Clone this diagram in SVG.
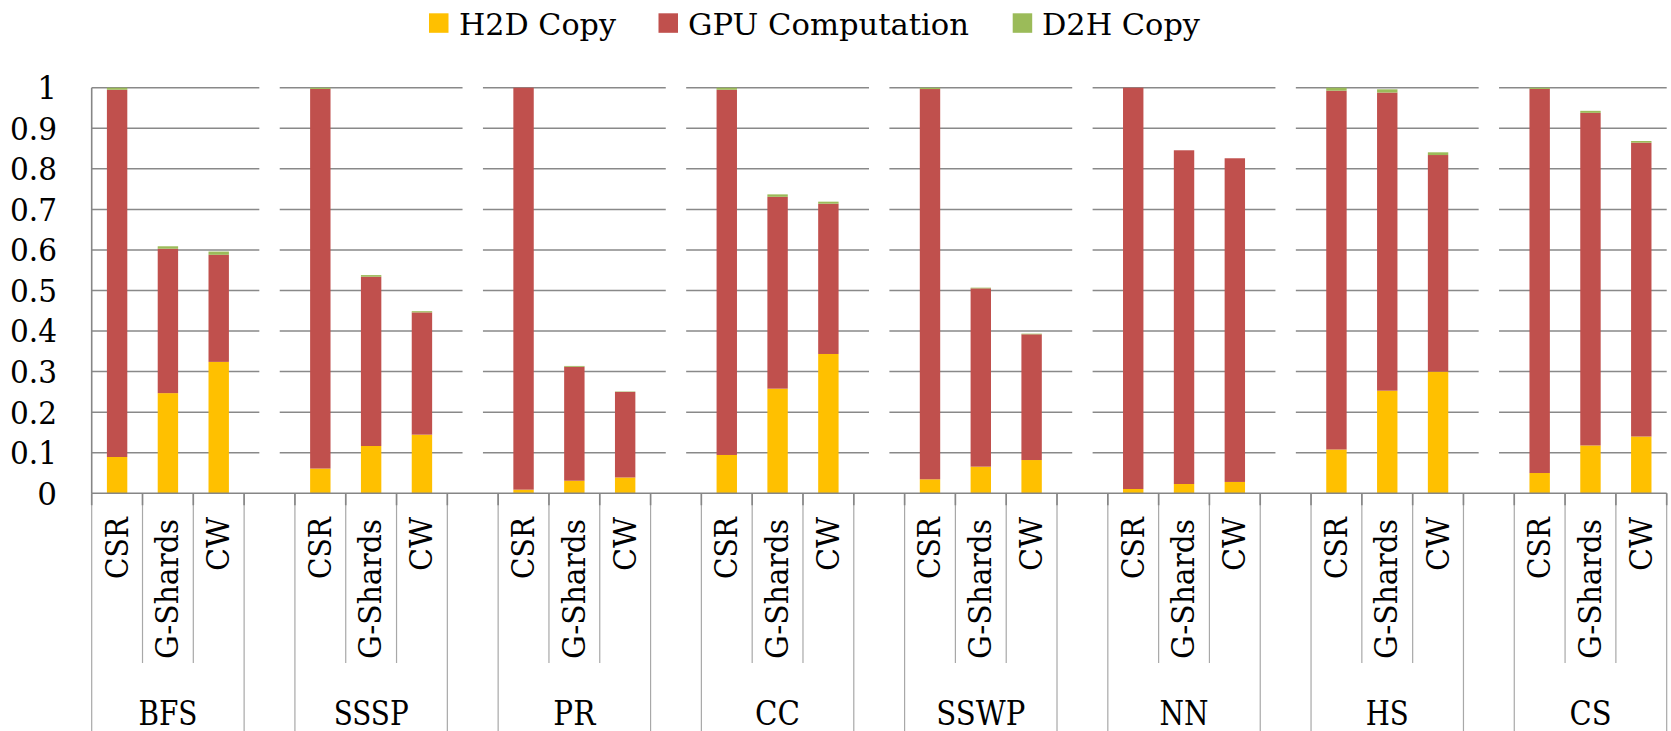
<svg xmlns="http://www.w3.org/2000/svg" width="1671" height="731" viewBox="0 0 1671 731">
  <style>
    text { font-family: "DejaVu Serif", "Liberation Serif", serif; fill: #000; }
    .leg { font-size: 30px; }
    .ytick { font-size: 31px; text-anchor: end; }
    .cat { font-size: 32px; text-anchor: end; }
    .grp { font-size: 33px; text-anchor: middle; }
    .grid { stroke: #898989; stroke-width: 1.5; fill: none; }
    .axis { stroke: #868686; stroke-width: 1.6; fill: none; }
    .tick { stroke: #868686; stroke-width: 1.6; }
    .sep { stroke: #a8a8a8; stroke-width: 1.2; }
    .h2d { fill: #FFC000; }
    .gpu { fill: #C0504D; }
    .d2h { fill: #9BBB59; }
    .blank { fill: #ffffff; }
  </style>

  <!-- legend -->
  <g id="legend">
    <rect class="h2d" x="429" y="13.3" width="19.5" height="19.5"/>
    <text class="leg" x="459" y="34.5" textLength="157" lengthAdjust="spacingAndGlyphs">H2D Copy</text>
    <rect class="gpu" x="658.5" y="13.3" width="19.5" height="19.5"/>
    <text class="leg" x="688" y="34.5" textLength="281" lengthAdjust="spacingAndGlyphs">GPU Computation</text>
    <rect class="d2h" x="1012.7" y="13.3" width="19.5" height="19.5"/>
    <text class="leg" x="1042" y="34.5" textLength="158" lengthAdjust="spacingAndGlyphs">D2H Copy</text>
  </g>

  <!-- horizontal gridlines, 0.1 .. 1.0 -->
  <g id="gridlines">
    <line class="grid" x1="91.7" y1="452.74" x2="1666.7" y2="452.74"/>
    <line class="grid" x1="91.7" y1="412.18" x2="1666.7" y2="412.18"/>
    <line class="grid" x1="91.7" y1="371.62" x2="1666.7" y2="371.62"/>
    <line class="grid" x1="91.7" y1="331.06" x2="1666.7" y2="331.06"/>
    <line class="grid" x1="91.7" y1="290.50" x2="1666.7" y2="290.50"/>
    <line class="grid" x1="91.7" y1="249.94" x2="1666.7" y2="249.94"/>
    <line class="grid" x1="91.7" y1="209.38" x2="1666.7" y2="209.38"/>
    <line class="grid" x1="91.7" y1="168.82" x2="1666.7" y2="168.82"/>
    <line class="grid" x1="91.7" y1="128.26" x2="1666.7" y2="128.26"/>
    <line class="grid" x1="91.7" y1="87.70" x2="1666.7" y2="87.70"/>
  </g>

  <!-- y axis labels -->
  <g id="y-labels">
    <text class="ytick" x="57" y="504.6">0</text>
    <text class="ytick" x="57" y="464.0" textLength="47" lengthAdjust="spacingAndGlyphs">0.1</text>
    <text class="ytick" x="57" y="423.5" textLength="47" lengthAdjust="spacingAndGlyphs">0.2</text>
    <text class="ytick" x="57" y="382.9" textLength="47" lengthAdjust="spacingAndGlyphs">0.3</text>
    <text class="ytick" x="57" y="342.4" textLength="47" lengthAdjust="spacingAndGlyphs">0.4</text>
    <text class="ytick" x="57" y="301.8" textLength="47" lengthAdjust="spacingAndGlyphs">0.5</text>
    <text class="ytick" x="57" y="261.2" textLength="47" lengthAdjust="spacingAndGlyphs">0.6</text>
    <text class="ytick" x="57" y="220.7" textLength="47" lengthAdjust="spacingAndGlyphs">0.7</text>
    <text class="ytick" x="57" y="180.1" textLength="47" lengthAdjust="spacingAndGlyphs">0.8</text>
    <text class="ytick" x="57" y="139.6" textLength="47" lengthAdjust="spacingAndGlyphs">0.9</text>
    <text class="ytick" x="57" y="99.0">1</text>
  </g>

  <!-- white spacer columns in the empty slots between groups -->
  <g id="spacers">
    <rect class="blank" x="259.32" y="86.9" width="20.4" height="405.6"/>
    <rect class="blank" x="462.54" y="86.9" width="20.4" height="405.6"/>
    <rect class="blank" x="665.77" y="86.9" width="20.4" height="405.6"/>
    <rect class="blank" x="868.99" y="86.9" width="20.4" height="405.6"/>
    <rect class="blank" x="1072.21" y="86.9" width="20.4" height="405.6"/>
    <rect class="blank" x="1275.44" y="86.9" width="20.4" height="405.6"/>
    <rect class="blank" x="1478.66" y="86.9" width="20.4" height="405.6"/>
  </g>

  <!-- stacked bars: H2D copy, GPU computation, D2H copy -->
  <g id="bars-BFS">
    <g id="BFS-CSR"><rect class="h2d" x="106.90" y="457.00" width="20.4" height="36.30"/><rect class="gpu" x="106.90" y="89.73" width="20.4" height="367.27"/><rect class="d2h" x="106.90" y="87.70" width="20.4" height="2.03"/></g>
    <g id="BFS-GShards"><rect class="h2d" x="157.71" y="393.12" width="20.4" height="100.18"/><rect class="gpu" x="157.71" y="248.72" width="20.4" height="144.40"/><rect class="d2h" x="157.71" y="246.29" width="20.4" height="2.43"/></g>
    <g id="BFS-CW"><rect class="h2d" x="208.51" y="361.89" width="20.4" height="131.41"/><rect class="gpu" x="208.51" y="254.81" width="20.4" height="107.08"/><rect class="d2h" x="208.51" y="251.56" width="20.4" height="3.25"/></g>
  </g>
  <g id="bars-SSSP">
    <g id="SSSP-CSR"><rect class="h2d" x="310.12" y="468.56" width="20.4" height="24.74"/><rect class="gpu" x="310.12" y="88.92" width="20.4" height="379.64"/><rect class="d2h" x="310.12" y="87.70" width="20.4" height="1.22"/></g>
    <g id="SSSP-GShards"><rect class="h2d" x="360.93" y="446.01" width="20.4" height="47.29"/><rect class="gpu" x="360.93" y="276.71" width="20.4" height="169.30"/><rect class="d2h" x="360.93" y="275.09" width="20.4" height="1.62"/></g>
    <g id="SSSP-CW"><rect class="h2d" x="411.74" y="434.65" width="20.4" height="58.65"/><rect class="gpu" x="411.74" y="312.40" width="20.4" height="122.25"/><rect class="d2h" x="411.74" y="311.19" width="20.4" height="1.21"/></g>
  </g>
  <g id="bars-PR">
    <g id="PR-CSR"><rect class="h2d" x="513.35" y="489.65" width="20.4" height="3.65"/><rect class="gpu" x="513.35" y="87.70" width="20.4" height="401.95"/></g>
    <g id="PR-GShards"><rect class="h2d" x="564.15" y="480.73" width="20.4" height="12.57"/><rect class="gpu" x="564.15" y="366.75" width="20.4" height="113.98"/><rect class="d2h" x="564.15" y="365.94" width="20.4" height="0.81"/></g>
    <g id="PR-CW"><rect class="h2d" x="614.96" y="477.48" width="20.4" height="15.82"/><rect class="gpu" x="614.96" y="391.90" width="20.4" height="85.58"/><rect class="d2h" x="614.96" y="391.50" width="20.4" height="0.40"/></g>
  </g>
  <g id="bars-CC">
    <g id="CC-CSR"><rect class="h2d" x="716.57" y="454.97" width="20.4" height="38.33"/><rect class="gpu" x="716.57" y="89.73" width="20.4" height="365.24"/><rect class="d2h" x="716.57" y="87.70" width="20.4" height="2.03"/></g>
    <g id="CC-GShards"><rect class="h2d" x="767.38" y="388.66" width="20.4" height="104.64"/><rect class="gpu" x="767.38" y="196.81" width="20.4" height="191.85"/><rect class="d2h" x="767.38" y="194.37" width="20.4" height="2.44"/></g>
    <g id="CC-CW"><rect class="h2d" x="818.18" y="353.98" width="20.4" height="139.32"/><rect class="gpu" x="818.18" y="203.70" width="20.4" height="150.28"/><rect class="d2h" x="818.18" y="201.67" width="20.4" height="2.03"/></g>
  </g>
  <g id="bars-SSWP">
    <g id="SSWP-CSR"><rect class="h2d" x="919.80" y="479.31" width="20.4" height="13.99"/><rect class="gpu" x="919.80" y="89.04" width="20.4" height="390.27"/><rect class="d2h" x="919.80" y="87.70" width="20.4" height="1.34"/></g>
    <g id="SSWP-GShards"><rect class="h2d" x="970.60" y="466.65" width="20.4" height="26.65"/><rect class="gpu" x="970.60" y="288.35" width="20.4" height="178.30"/><rect class="d2h" x="970.60" y="287.66" width="20.4" height="0.69"/></g>
    <g id="SSWP-CW"><rect class="h2d" x="1021.41" y="460.04" width="20.4" height="33.26"/><rect class="gpu" x="1021.41" y="334.30" width="20.4" height="125.74"/><rect class="d2h" x="1021.41" y="333.66" width="20.4" height="0.64"/></g>
  </g>
  <g id="bars-NN">
    <g id="NN-CSR"><rect class="h2d" x="1123.02" y="489.00" width="20.4" height="4.30"/><rect class="gpu" x="1123.02" y="87.70" width="20.4" height="401.30"/></g>
    <g id="NN-GShards"><rect class="h2d" x="1173.83" y="484.00" width="20.4" height="9.30"/><rect class="gpu" x="1173.83" y="150.28" width="20.4" height="333.72"/></g>
    <g id="NN-CW"><rect class="h2d" x="1224.63" y="481.94" width="20.4" height="11.36"/><rect class="gpu" x="1224.63" y="158.27" width="20.4" height="323.67"/></g>
  </g>
  <g id="bars-HS">
    <g id="HS-CSR"><rect class="h2d" x="1326.24" y="449.50" width="20.4" height="43.80"/><rect class="gpu" x="1326.24" y="90.70" width="20.4" height="358.80"/><rect class="d2h" x="1326.24" y="87.70" width="20.4" height="3.00"/></g>
    <g id="HS-GShards"><rect class="h2d" x="1377.05" y="390.68" width="20.4" height="102.62"/><rect class="gpu" x="1377.05" y="92.57" width="20.4" height="298.11"/><rect class="d2h" x="1377.05" y="89.32" width="20.4" height="3.25"/></g>
    <g id="HS-CW"><rect class="h2d" x="1427.86" y="371.62" width="20.4" height="121.68"/><rect class="gpu" x="1427.86" y="155.03" width="20.4" height="216.59"/><rect class="d2h" x="1427.86" y="152.31" width="20.4" height="2.72"/></g>
  </g>
  <g id="bars-CS">
    <g id="CS-CSR"><rect class="h2d" x="1529.47" y="473.02" width="20.4" height="20.28"/><rect class="gpu" x="1529.47" y="88.92" width="20.4" height="384.10"/><rect class="d2h" x="1529.47" y="87.70" width="20.4" height="1.22"/></g>
    <g id="CS-GShards"><rect class="h2d" x="1580.27" y="445.44" width="20.4" height="47.86"/><rect class="gpu" x="1580.27" y="112.85" width="20.4" height="332.59"/><rect class="d2h" x="1580.27" y="110.82" width="20.4" height="2.03"/></g>
    <g id="CS-CW"><rect class="h2d" x="1631.08" y="436.52" width="20.4" height="56.78"/><rect class="gpu" x="1631.08" y="142.66" width="20.4" height="293.86"/><rect class="d2h" x="1631.08" y="141.00" width="20.4" height="1.66"/></g>
  </g>

  <!-- category axis: separators, ticks and axis lines -->
  <g id="category-axis">
    <!-- full-height separators at group edges -->
    <g class="sep">
      <line x1="91.70" y1="493.3" x2="91.70" y2="731"/>
      <line x1="244.12" y1="493.3" x2="244.12" y2="731"/>
      <line x1="294.92" y1="493.3" x2="294.92" y2="731"/>
      <line x1="447.34" y1="493.3" x2="447.34" y2="731"/>
      <line x1="498.15" y1="493.3" x2="498.15" y2="731"/>
      <line x1="650.57" y1="493.3" x2="650.57" y2="731"/>
      <line x1="701.37" y1="493.3" x2="701.37" y2="731"/>
      <line x1="853.79" y1="493.3" x2="853.79" y2="731"/>
      <line x1="904.60" y1="493.3" x2="904.60" y2="731"/>
      <line x1="1057.01" y1="493.3" x2="1057.01" y2="731"/>
      <line x1="1107.82" y1="493.3" x2="1107.82" y2="731"/>
      <line x1="1260.24" y1="493.3" x2="1260.24" y2="731"/>
      <line x1="1311.04" y1="493.3" x2="1311.04" y2="731"/>
      <line x1="1463.46" y1="493.3" x2="1463.46" y2="731"/>
      <line x1="1514.27" y1="493.3" x2="1514.27" y2="731"/>
      <line x1="1666.69" y1="493.3" x2="1666.69" y2="731"/>
      <!-- short separators between layouts -->
      <line x1="142.51" y1="493.3" x2="142.51" y2="663"/>
      <line x1="193.31" y1="493.3" x2="193.31" y2="663"/>
      <line x1="345.73" y1="493.3" x2="345.73" y2="663"/>
      <line x1="396.54" y1="493.3" x2="396.54" y2="663"/>
      <line x1="548.95" y1="493.3" x2="548.95" y2="663"/>
      <line x1="599.76" y1="493.3" x2="599.76" y2="663"/>
      <line x1="752.18" y1="493.3" x2="752.18" y2="663"/>
      <line x1="802.98" y1="493.3" x2="802.98" y2="663"/>
      <line x1="955.40" y1="493.3" x2="955.40" y2="663"/>
      <line x1="1006.21" y1="493.3" x2="1006.21" y2="663"/>
      <line x1="1158.63" y1="493.3" x2="1158.63" y2="663"/>
      <line x1="1209.43" y1="493.3" x2="1209.43" y2="663"/>
      <line x1="1361.85" y1="493.3" x2="1361.85" y2="663"/>
      <line x1="1412.66" y1="493.3" x2="1412.66" y2="663"/>
      <line x1="1565.07" y1="493.3" x2="1565.07" y2="663"/>
      <line x1="1615.88" y1="493.3" x2="1615.88" y2="663"/>
    </g>
    <!-- tick marks -->
    <path class="tick" d="M91.70 493.3v12 M142.51 493.3v12 M193.31 493.3v12 M244.12 493.3v12 M294.92 493.3v12 M345.73 493.3v12 M396.54 493.3v12 M447.34 493.3v12 M498.15 493.3v12 M548.95 493.3v12 M599.76 493.3v12 M650.57 493.3v12 M701.37 493.3v12 M752.18 493.3v12 M802.98 493.3v12 M853.79 493.3v12 M904.60 493.3v12 M955.40 493.3v12 M1006.21 493.3v12 M1057.01 493.3v12 M1107.82 493.3v12 M1158.63 493.3v12 M1209.43 493.3v12 M1260.24 493.3v12 M1311.04 493.3v12 M1361.85 493.3v12 M1412.66 493.3v12 M1463.46 493.3v12 M1514.27 493.3v12 M1565.07 493.3v12 M1615.88 493.3v12 M1666.69 493.3v12"/>
    <line class="axis" x1="91.7" y1="87.7" x2="91.7" y2="493.3"/>
    <line class="axis" x1="91.7" y1="493.3" x2="1666.7" y2="493.3"/>
  </g>

  <!-- layout labels (rotated) -->
  <g id="layout-labels">
    <text class="cat" transform="translate(127.5 517) rotate(-90)" textLength="62" lengthAdjust="spacingAndGlyphs">CSR</text>
    <text class="cat" transform="translate(178.1 519) rotate(-90)" textLength="140" lengthAdjust="spacingAndGlyphs">G-Shards</text>
    <text class="cat" transform="translate(229.1 517) rotate(-90)" textLength="54" lengthAdjust="spacingAndGlyphs">CW</text>
    <text class="cat" transform="translate(330.7 517) rotate(-90)" textLength="62" lengthAdjust="spacingAndGlyphs">CSR</text>
    <text class="cat" transform="translate(381.3 519) rotate(-90)" textLength="140" lengthAdjust="spacingAndGlyphs">G-Shards</text>
    <text class="cat" transform="translate(432.3 517) rotate(-90)" textLength="54" lengthAdjust="spacingAndGlyphs">CW</text>
    <text class="cat" transform="translate(533.9 517) rotate(-90)" textLength="62" lengthAdjust="spacingAndGlyphs">CSR</text>
    <text class="cat" transform="translate(584.5 519) rotate(-90)" textLength="140" lengthAdjust="spacingAndGlyphs">G-Shards</text>
    <text class="cat" transform="translate(635.6 517) rotate(-90)" textLength="54" lengthAdjust="spacingAndGlyphs">CW</text>
    <text class="cat" transform="translate(737.2 517) rotate(-90)" textLength="62" lengthAdjust="spacingAndGlyphs">CSR</text>
    <text class="cat" transform="translate(787.8 519) rotate(-90)" textLength="140" lengthAdjust="spacingAndGlyphs">G-Shards</text>
    <text class="cat" transform="translate(838.8 517) rotate(-90)" textLength="54" lengthAdjust="spacingAndGlyphs">CW</text>
    <text class="cat" transform="translate(940.4 517) rotate(-90)" textLength="62" lengthAdjust="spacingAndGlyphs">CSR</text>
    <text class="cat" transform="translate(991.0 519) rotate(-90)" textLength="140" lengthAdjust="spacingAndGlyphs">G-Shards</text>
    <text class="cat" transform="translate(1042.0 517) rotate(-90)" textLength="54" lengthAdjust="spacingAndGlyphs">CW</text>
    <text class="cat" transform="translate(1143.6 517) rotate(-90)" textLength="62" lengthAdjust="spacingAndGlyphs">CSR</text>
    <text class="cat" transform="translate(1194.2 519) rotate(-90)" textLength="140" lengthAdjust="spacingAndGlyphs">G-Shards</text>
    <text class="cat" transform="translate(1245.2 517) rotate(-90)" textLength="54" lengthAdjust="spacingAndGlyphs">CW</text>
    <text class="cat" transform="translate(1346.8 517) rotate(-90)" textLength="62" lengthAdjust="spacingAndGlyphs">CSR</text>
    <text class="cat" transform="translate(1397.4 519) rotate(-90)" textLength="140" lengthAdjust="spacingAndGlyphs">G-Shards</text>
    <text class="cat" transform="translate(1448.5 517) rotate(-90)" textLength="54" lengthAdjust="spacingAndGlyphs">CW</text>
    <text class="cat" transform="translate(1550.1 517) rotate(-90)" textLength="62" lengthAdjust="spacingAndGlyphs">CSR</text>
    <text class="cat" transform="translate(1600.7 519) rotate(-90)" textLength="140" lengthAdjust="spacingAndGlyphs">G-Shards</text>
    <text class="cat" transform="translate(1651.7 517) rotate(-90)" textLength="54" lengthAdjust="spacingAndGlyphs">CW</text>
  </g>

  <!-- algorithm group labels -->
  <g id="group-labels">
    <text class="grp" x="167.91" y="724.8" textLength="59" lengthAdjust="spacingAndGlyphs">BFS</text>
    <text class="grp" x="371.13" y="724.8" textLength="75" lengthAdjust="spacingAndGlyphs">SSSP</text>
    <text class="grp" x="574.35" y="724.8" textLength="42" lengthAdjust="spacingAndGlyphs">PR</text>
    <text class="grp" x="777.58" y="724.8" textLength="45" lengthAdjust="spacingAndGlyphs">CC</text>
    <text class="grp" x="980.80" y="724.8" textLength="89" lengthAdjust="spacingAndGlyphs">SSWP</text>
    <text class="grp" x="1184.03" y="724.8" textLength="49" lengthAdjust="spacingAndGlyphs">NN</text>
    <text class="grp" x="1387.25" y="724.8" textLength="43" lengthAdjust="spacingAndGlyphs">HS</text>
    <text class="grp" x="1590.47" y="724.8" textLength="42" lengthAdjust="spacingAndGlyphs">CS</text>
  </g>
</svg>
